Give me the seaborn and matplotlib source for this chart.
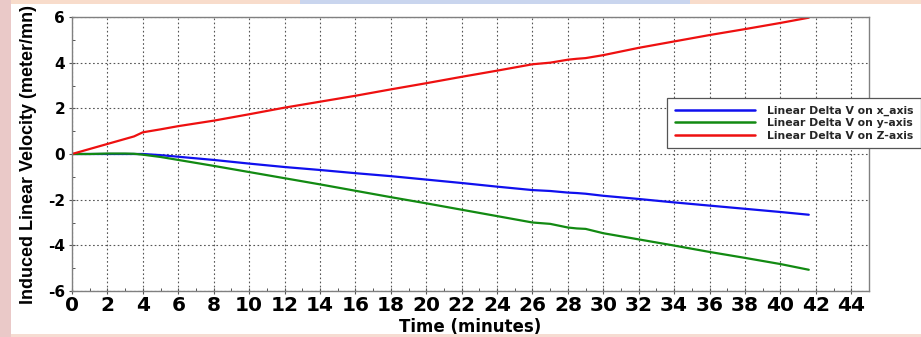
import matplotlib
matplotlib.use("Agg")
import matplotlib.pyplot as plt
from matplotlib.patches import Rectangle
from matplotlib.ticker import MultipleLocator
import numpy as np
import pandas as pd
import seaborn as sns

# Elapsed time (minutes) and induced linear velocity per axis (meter/mn)
time_min = [0, 1, 2, 3, 3.5, 4, 5, 6, 8, 10, 12, 14, 16, 18, 20, 22, 24, 26,
            27, 28, 28.5, 29, 30, 32, 34, 36, 38, 40, 41.6]
dv_x = [0, 0, 0, 0, 0, 0, -0.05, -0.12, -0.26, -0.42, -0.57, -0.70, -0.84,
        -0.97, -1.12, -1.27, -1.43, -1.58, -1.62, -1.69, -1.71, -1.74, -1.83,
        -1.97, -2.12, -2.26, -2.40, -2.54, -2.66]
dv_y = [0, 0, 0.02, 0.02, 0.01, -0.03, -0.13, -0.26, -0.52, -0.79, -1.06,
        -1.33, -1.61, -1.89, -2.16, -2.44, -2.72, -3.00, -3.06, -3.22, -3.26,
        -3.28, -3.47, -3.74, -4.01, -4.29, -4.55, -4.82, -5.07]
dv_z = [0, 0.22, 0.44, 0.66, 0.77, 0.95, 1.08, 1.22, 1.46, 1.74, 2.03, 2.29,
        2.55, 2.83, 3.10, 3.38, 3.65, 3.93, 4.00, 4.13, 4.17, 4.20, 4.33, 4.65,
        4.93, 5.21, 5.47, 5.74, 5.97]

series_names = ["Linear Delta V on x_axis", "Linear Delta V on y-axis",
                "Linear Delta V on Z-axis"]
series_colors = ["#1010ee", "#128a12", "#ee1010"]
x_ticks = list(range(0, 46, 2))
y_ticks = list(range(-6, 7, 2))

df = pd.concat([
    pd.DataFrame({"time": time_min, "dv": vals, "series": name})
    for name, vals in zip(series_names, [dv_x, dv_y, dv_z])
], ignore_index=True)

sns.set_theme(style="white")
plt.rcParams["font.family"] = ["DejaVu Sans"]
plt.rcParams["axes.unicode_minus"] = False

W, H = 921, 337
fig = plt.figure(figsize=(W / 100, H / 100), dpi=100, facecolor="#f8dccb")

# slide backdrop around the white chart panel
fig.patches.append(Rectangle((0, 0), 1, 1, transform=fig.transFigure,
                             facecolor="#f8dccb", edgecolor="none", zorder=-3))
fig.patches.append(Rectangle((300 / W, 1 - 5 / H), 390 / W, 5 / H,
                             transform=fig.transFigure, facecolor="#c9d5ee",
                             edgecolor="none", zorder=-2))
fig.patches.append(Rectangle((0, 0), 11 / W, 1, transform=fig.transFigure,
                             facecolor="#eac9c8", edgecolor="none", zorder=-2))
fig.patches.append(Rectangle((11 / W, 3 / H), 1 - 11 / W, 1 - 7 / H,
                             transform=fig.transFigure, facecolor="white",
                             edgecolor="none", zorder=-1))
fig.patches.append(Rectangle((11 / W, 0), 1 - 11 / W, 3 / H,
                             transform=fig.transFigure, facecolor="#f6dcd2",
                             edgecolor="none", zorder=-2))

ax = fig.add_axes([72 / W, 1 - 291 / H, (869 - 72) / W, (291 - 17) / H])
ax.set_facecolor("white")

sns.lineplot(data=df, x="time", y="dv", hue="series", hue_order=series_names,
             palette=series_colors, linewidth=1.6, ax=ax, legend=True,
             estimator=None, sort=False)

ax.set_xlim(0, 45)
ax.set_ylim(-6, 6)
ax.set_xticks(x_ticks)
ax.set_yticks(y_ticks)
ax.xaxis.set_minor_locator(MultipleLocator(1))
ax.yaxis.set_minor_locator(MultipleLocator(1))
ax.grid(True, which="major", color="#555555", linestyle=(0, (1.5, 2.2)),
        linewidth=0.8)
ax.set_axisbelow(True)

for side in ["left", "right", "top", "bottom"]:
    ax.spines[side].set_visible(True)
    ax.spines[side].set_color("#808080")
    ax.spines[side].set_linewidth(1.0)

ax.tick_params(axis="both", which="major", direction="inout", length=4,
               width=0.8, color="#555555", bottom=True, left=True)
ax.tick_params(axis="both", which="minor", direction="in", length=2,
               width=0.7, color="#555555", bottom=True, left=True)
ax.tick_params(axis="x", which="major", labelsize=14.5, pad=1.5)
ax.tick_params(axis="y", which="major", labelsize=11, pad=3)
for lab in ax.get_xticklabels() + ax.get_yticklabels():
    lab.set_fontweight("bold")
    lab.set_color("black")

ax.set_xlabel("Time (minutes)", fontsize=12, fontweight="bold",
              color="black")
ax.xaxis.set_label_coords(0.5, -0.131)
ax.xaxis.label.set_va("center")

ax.set_ylabel("Induced Linear Velocity (meter/mn)", fontsize=13,
              fontweight="bold", color="black",
              family=["Liberation Sans Narrow", "Liberation Sans"])
ax.yaxis.set_label_coords(-0.054, 0.5)
ax.yaxis.label.set_va("center")

leg = ax.legend(loc="upper left", bbox_to_anchor=(667 / W, 1 - 98 / H),
                bbox_transform=fig.transFigure, borderaxespad=0,
                frameon=True, fancybox=False, shadow=False,
                prop={"weight": "bold", "size": 7.8},
                handlelength=7.4, handletextpad=1.1, labelspacing=0.22,
                borderpad=0.7)
leg.get_frame().set_edgecolor("#555555")
leg.get_frame().set_linewidth(0.9)
leg.get_frame().set_facecolor("white")
leg.get_frame().set_alpha(1)
for line in leg.get_lines():
    line.set_linewidth(1.8)

fig.savefig("out.png", dpi=100, facecolor=fig.get_facecolor())
